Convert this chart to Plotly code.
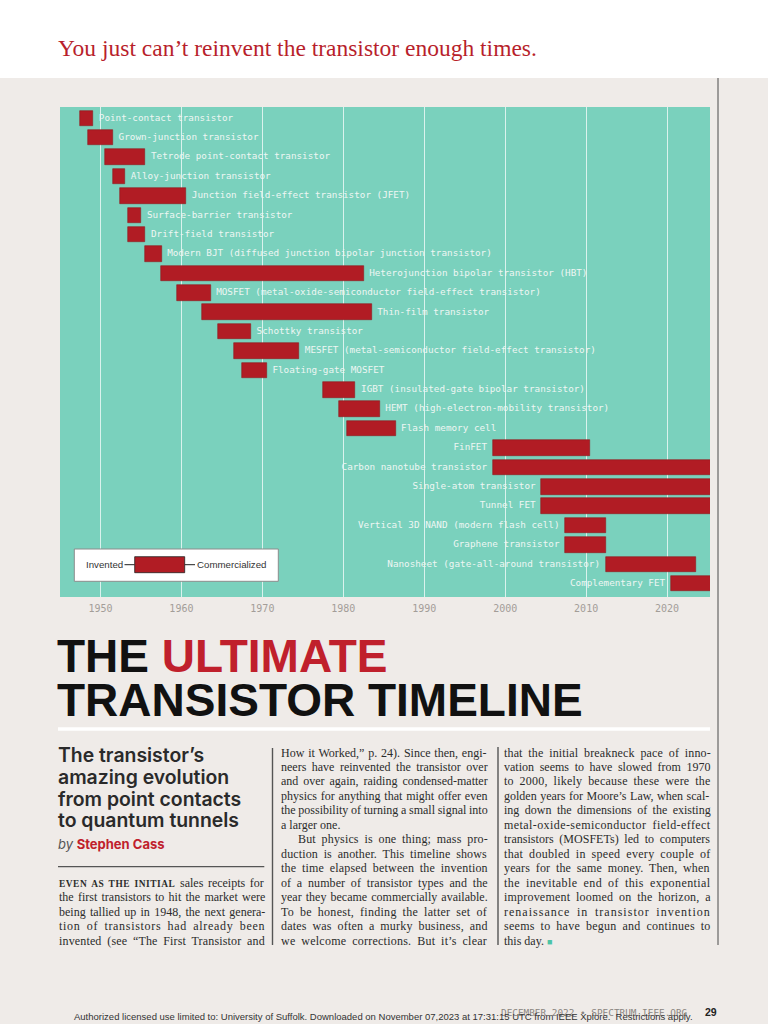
import plotly.graph_objects as go

W, H = 768, 1024

# ---------------- data ----------------
transistors = [
    "Point-contact transistor",
    "Grown-junction transistor",
    "Tetrode point-contact transistor",
    "Alloy-junction transistor",
    "Junction field-effect transistor (JFET)",
    "Surface-barrier transistor",
    "Drift-field transistor",
    "Modern BJT (diffused junction bipolar junction transistor)",
    "Heterojunction bipolar transistor (HBT)",
    "MOSFET (metal-oxide-semiconductor field-effect transistor)",
    "Thin-film transistor",
    "Schottky transistor",
    "MESFET (metal-semiconductor field-effect transistor)",
    "Floating-gate MOSFET",
    "IGBT (insulated-gate bipolar transistor)",
    "HEMT (high-electron-mobility transistor)",
    "Flash memory cell",
    "FinFET",
    "Carbon nanotube transistor",
    "Single-atom transistor",
    "Tunnel FET",
    "Vertical 3D NAND (modern flash cell)",
    "Graphene transistor",
    "Nanosheet (gate-all-around transistor)",
    "Complementary FET",
]
invented = [1947.45, 1948.45, 1950.5, 1951.5, 1952.45, 1953.45, 1953.45, 1955.5,
            1957.45, 1959.45, 1962.55, 1964.55, 1966.5, 1967.5, 1977.5, 1979.45,
            1980.45, 1998.45, 1998.45, 2004.45, 2004.45, 2007.4, 2007.4, 2012.4,
            2020.45]
# None = not yet commercialized (bar runs off the chart edge)
commercialized = [1949.1, 1951.55, 1955.55, 1953.05, 1960.6, 1955.05, 1955.55, 1957.55,
                  1982.5, 1963.6, 1983.5, 1968.6, 1974.55, 1970.55, 1981.5, 1984.5,
                  1986.45, 2010.5, None, None, None, 2012.45, 2012.45, 2023.55, None]
label_side = ["right"] * 17 + ["left"] * 8
year_ticks = [1950, 1960, 1970, 1980, 1990, 2000, 2010, 2020]

X_MIN, X_MAX = 1945.0, 2025.3

# ---------------- colours / fonts ----------------
PAGE = "#efebe8"
TEAL = "#7ad1bd"
RED = "#b11c24"
TITLE_RED = "#c0202c"
MONO = "DejaVu Sans Mono, Liberation Mono, monospace"
SANS = "Liberation Sans, Arial, sans-serif"
SERIF = "Liberation Serif, Times New Roman, serif"
INTER = "Inter, Roboto, sans-serif"

ends = [c if c is not None else X_MAX + 1 for c in commercialized]
rows = list(range(len(transistors)))

fig = go.Figure()

fig.add_trace(go.Bar(
    y=rows, x=[e - s for s, e in zip(invented, ends)], base=invented,
    orientation="h", width=0.8,
    marker=dict(color=RED, line=dict(color="#8e191f", width=0.6)),
    hoverinfo="skip",
))

# labels right of bar
rx = [e for e, side in zip(ends, label_side) if side == "right"]
ry = [r for r, side in zip(rows, label_side) if side == "right"]
rt = ["\u00a0" + t for t, side in zip(transistors, label_side) if side == "right"]
fig.add_trace(go.Scatter(
    x=rx, y=ry, text=rt, mode="text", textposition="middle right",
    textfont=dict(family=MONO, size=9.3, color="#eef6f3"),
    cliponaxis=False, hoverinfo="skip",
))
# labels left of bar
lx = [s for s, side in zip(invented, label_side) if side == "left"]
ly = [r for r, side in zip(rows, label_side) if side == "left"]
lt = [t + "\u00a0" for t, side in zip(transistors, label_side) if side == "left"]
fig.add_trace(go.Scatter(
    x=lx, y=ly, text=lt, mode="text", textposition="middle left",
    textfont=dict(family=MONO, size=9.3, color="#eef6f3"),
    cliponaxis=False, hoverinfo="skip",
))

n = len(transistors)
fig.update_layout(
    width=W, height=H, margin=dict(l=0, r=0, t=0, b=0),
    paper_bgcolor=PAGE, plot_bgcolor=TEAL, showlegend=False,
    bargap=0,
    xaxis=dict(domain=[60 / W, 710 / W], range=[X_MIN, X_MAX],
               tickvals=year_ticks, ticktext=[str(t) for t in year_ticks],
               showgrid=True, gridcolor="rgba(255,255,255,0.72)", gridwidth=1.2,
               zeroline=False, showline=False, ticks="", ticklabelstandoff=4,
               tickfont=dict(family=MONO, size=10, color="#a39d98"), fixedrange=True),
    yaxis=dict(domain=[1 - 597 / H, 1 - 107 / H], range=[n - 1 + 0.686, -0.583],
               visible=False, fixedrange=True),
)

# ---------------- helpers ----------------
def px(x):
    return x / W


def py(y):
    return 1 - y / H


annotations = []


def ann(x, y, text, size, family, color, xanchor="left", weight=None):
    f = dict(size=size, family=family, color=color)
    if weight is not None:
        f["weight"] = weight
    annotations.append(dict(
        x=px(x), y=py(y), xref="paper", yref="paper", text=text, showarrow=False,
        xanchor=xanchor, yanchor="middle", font=f, borderpad=0,
    ))


shapes = []


def rect(x0, y0, x1, y1, fill, line_color=None, lw=0, layer="above"):
    shapes.append(dict(type="rect", xref="paper", yref="paper",
                       x0=px(x0), x1=px(x1), y0=py(y1), y1=py(y0),
                       fillcolor=fill, line=dict(color=line_color or fill, width=lw),
                       layer=layer))


def line(x0, y0, x1, y1, color, lw):
    shapes.append(dict(type="line", xref="paper", yref="paper",
                       x0=px(x0), x1=px(x1), y0=py(y0), y1=py(y1),
                       line=dict(color=color, width=lw)))


# top white band
rect(0, 0, W, 78, "white", layer="below")
# page gutter line
line(718, 78, 718, 945, "#4a4a4a", 1)

# subtitle
ann(57, 48.3, "You just can\u2019t reinvent the transistor enough times.", 23.5, SERIF, "#b81f2c")

# legend box
rect(74.3, 549, 278.3, 581.3, "white", "#8c8c8c", 1)
line(124.5, 564.7, 134.7, 564.7, "#222", 1)
line(184.7, 564.7, 195, 564.7, "#222", 1)
rect(134.7, 556.7, 184.7, 572.7, RED, "#222", 0.8)
ann(123.5, 564.5, "Invented", 9.7, SANS, "#333", xanchor="right")
ann(196.3, 564.5, "Commercialized", 9.7, SANS, "#333")

# big title
ann(56, 655.8, 'THE <span style="color:%s">ULTIMATE</span>' % TITLE_RED, 46, SANS, "#111", weight="bold")
ann(56, 699.8, "TRANSISTOR TIMELINE", 46, SANS, "#111", weight="bold")
line(58, 729, 710, 729, "white", 3.5)

# column 1 heading
for i, t in enumerate(["The transistor\u2019s", "amazing evolution",
                       "from point contacts", "to quantum tunnels"]):
    ann(57, 755.1 + 21.77 * i, t, 19.4, INTER, "#2a2a2a", weight=600)
ann(57, 843.6, '<i>by</i> <b><span style="color:%s">Stephen Cass</span></b>' % TITLE_RED,
    13, INTER, "#555")
line(58, 866.7, 264.3, 866.7, "#555", 1.2)

# column dividers
line(272.5, 748, 272.5, 945, "#555", 1.4)
line(498, 747, 498, 945, "#555", 1.4)

# ---------------- body text with approximate justification ----------------
_w = {
    " ": 250, ",": 250, ".": 250, "-": 333, "(": 333, ")": 333, ";": 278, ":": 278,
    "\u2019": 333, "\u201c": 444, "\u201d": 444, "\"": 408,
    "a": 444, "b": 500, "c": 444, "d": 500, "e": 444, "f": 333, "g": 500, "h": 500,
    "i": 278, "j": 278, "k": 500, "l": 278, "m": 778, "n": 500, "o": 500, "p": 500,
    "q": 500, "r": 333, "s": 389, "t": 278, "u": 500, "v": 500, "w": 722, "x": 500,
    "y": 500, "z": 444,
    "A": 722, "B": 667, "C": 667, "D": 722, "E": 611, "F": 556, "G": 722, "H": 722,
    "I": 333, "J": 389, "K": 722, "L": 611, "M": 889, "N": 722, "O": 722, "P": 556,
    "Q": 722, "R": 667, "S": 556, "T": 611, "U": 722, "V": 722, "W": 944, "X": 722,
    "Y": 722, "Z": 611,
}


def tw(s, size):
    return sum(_w.get(c, 500) for c in s) / 1000.0 * size


BODY = 12.0
WS_MAX = 2.6


def spacing(s, width, size=BODY, extra_w=0.0, extra_chars=0):
    w = tw(s, size) + extra_w
    nsp = s.count(" ")
    nch = len(s) + extra_chars
    ws = (width - w) / nsp if nsp else 99
    ls = 0.0
    if ws < -1.0:
        ls = (width - w + nsp * 1.0) / nch
        ws = -1.0
    elif ws > WS_MAX:
        ls = (width - w - nsp * WS_MAX) / nch
        ws = WS_MAX if nsp else 0.0
    return ws, ls


def body_line(x, y, s, width, last=False):
    if last:
        ann(x, y, s, BODY, SERIF, "#2b2b2b")
        return
    ws, ls = spacing(s, width)
    ann(x, y, '<span style="word-spacing:%.2fpx;letter-spacing:%.2fpx">%s</span>' % (ws, ls, s),
        BODY, SERIF, "#2b2b2b")


LINE0, LSTEP = 752.5, 14.48

# column 1 body (lines 9..13 of the grid)
c1x, c1w = 58, 206.3
sc = "EVEN AS THE INITIAL"
sc_size, sc_ls = 9.4, 0.55
sc_w = tw(sc, sc_size) * 1.06 + len(sc) * sc_ls
rest = " sales receipts for"
ws1 = (c1w - sc_w - tw(rest, BODY)) / (sc.count(" ") + rest.count(" "))
ann(c1x, LINE0 + LSTEP * 9,
    '<span style="font-weight:bold;font-size:%.1fpx;letter-spacing:%.2fpx;word-spacing:%.2fpx">%s</span>'
    '<span style="word-spacing:%.2fpx">%s</span>' % (sc_size, sc_ls, ws1, sc, ws1, rest),
    BODY, SERIF, "#2b2b2b")
col1 = [
    "the first transistors to hit the market were",
    "being tallied up in 1948, the next genera-",
    "tion of transistors had already been",
    "invented (see \u201cThe First Transistor and",
]
for i, s in enumerate(col1):
    body_line(c1x, LINE0 + LSTEP * (10 + i), s, c1w)

# column 2
c2x, c2w = 280, 206.7
col2 = [
    "How it Worked,\u201d p. 24). Since then, engi-",
    "neers have reinvented the transistor over",
    "and over again, raiding condensed-matter",
    "physics for anything that might offer even",
    "the possibility of turning a small signal into",
    "a larger one.",
    "But physics is one thing; mass pro-",
    "duction is another. This timeline shows",
    "the time elapsed between the invention",
    "of a number of transistor types and the",
    "year they became commercially available.",
    "To be honest, finding the latter set of",
    "dates was often a murky business, and",
    "we welcome corrections. But it\u2019s clear",
]
for i, s in enumerate(col2):
    if i == 6:
        body_line(c2x + 16.7, LINE0 + LSTEP * i, s, c2w - 16.7)
    else:
        body_line(c2x, LINE0 + LSTEP * i, s, c2w, last=(i == 5))

# column 3
c3x, c3w = 503.3, 206.7
col3 = [
    "that the initial breakneck pace of inno-",
    "vation seems to have slowed from 1970",
    "to 2000, likely because these were the",
    "golden years for Moore\u2019s Law, when scal-",
    "ing down the dimensions of the existing",
    "metal-oxide-semiconductor field-effect",
    "transistors (MOSFETs) led to computers",
    "that doubled in speed every couple of",
    "years for the same money. Then, when",
    "the inevitable end of this exponential",
    "improvement loomed on the horizon, a",
    "renaissance in transistor invention",
    "seems to have begun and continues to",
]
for i, s in enumerate(col3):
    body_line(c3x, LINE0 + LSTEP * i, s, c3w)
ann(c3x, LINE0 + LSTEP * 13,
    'this day. <span style="color:#4cc3a6;font-size:9px">\u25a0</span>', BODY, SERIF, "#2b2b2b")

# footer
ann(500, 1012, "DECEMBER 2022 \u2022 SPECTRUM.IEEE.ORG", 9.4, MONO, "#8a8580")
ann(718, 1012, "<b>29</b>", 10.5, SANS, "#222", xanchor="right")
ann(72.5, 1016, "Authorized licensed use limited to: University of Suffolk. Downloaded on November 07,2023 "
    "at 17:31:15 UTC from IEEE Xplore.  Restrictions apply.", 9.5, SANS, "#333")

fig.update_layout(annotations=annotations, shapes=shapes)
fig.write_html("out.html", config={"displayModeBar": False},
               post_script="document.body.style.margin='0';"
                           "document.body.style.overflow='hidden';")
